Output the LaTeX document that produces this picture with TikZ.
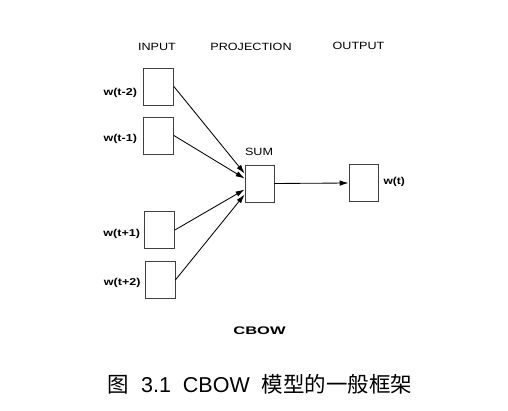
\documentclass[tikz,border=0pt]{standalone}
\usepackage{fontspec}
\setmainfont{Liberation Sans}
\newfontfamily\cjk{Noto Sans CJK SC}
\usetikzlibrary{arrows.meta, positioning, calc}
\tikzset{
    unitbox/.style={rectangle, draw=black!75, line width=0.75pt, minimum width=30pt, minimum height=37pt, inner sep=0pt},
    arrow/.style={line width=0.85pt, -{Latex[length=9pt, width=5.5pt]}}
}
\newcommand{\wide}[2]{\scalebox{#1}[1]{#2}}

\begin{document}
\begin{tikzpicture}[
    x=1pt, y=-1pt,
    layerlabel/.style={font=\fontsize{10.5}{12}\selectfont, inner sep=0pt},
    wordlabel/.style={font=\bfseries\fontsize{10}{12}\selectfont, inner sep=0pt, anchor=east}
]
    \useasboundingbox (0,0) rectangle (508,411);

    % Layer titles
    \node (tinput) [layerlabel] at (157,47) {\wide{1.2}{INPUT}};
    \node (tproj) [layerlabel] at (251,46.5) {\wide{1.2}{PROJECTION}};
    \node (toutput) [layerlabel] at (358.5,45.5) {\wide{1.2}{OUTPUT}};

    % Context words
    \node (in1) [unitbox] at (158.5,86.5) {};
    \node (in2) [unitbox] at (158.5,135.5) {};
    \node (in3) [unitbox] at (159.5,230) {};
    \node (in4) [unitbox] at (160,280) {};
    \node (lin1) [wordlabel] at ($(in1.west)+(-6,6)$) {\wide{1.25}{w(t-2)}};
    \node (lin2) [wordlabel] at ($(in2.west)+(-6,3)$) {\wide{1.25}{w(t-1)}};
    \node (lin3) [wordlabel] at ($(in3.west)+(-4,4)$) {\wide{1.25}{w(t+1)}};
    \node (lin4) [wordlabel] at ($(in4.west)+(-4,2.5)$) {\wide{1.25}{w(t+2)}};

    % Projection and output
    \node (sum) [unitbox, minimum width=29pt] at (259.5,183.5) {};
    \node (lsum) [layerlabel] at (259,152) {\wide{1.2}{SUM}};
    \node (out) [unitbox, minimum width=29pt] at (363.5,183) {};
    \node (lout) [wordlabel, anchor=west] at ($(out.east)+(5,-1.5)$) {\wide{1.2}{w(t)}};

    % Connections
    \draw [arrow] (in1.east) -- ([yshift=10pt]sum.west);
    \draw [arrow] (in2.east) -- ([yshift=5pt]sum.west);
    \draw [arrow] (in3.east) -- ([yshift=-6pt]sum.west);
    \draw [arrow] (in4.east) -- ([yshift=-11pt]sum.west);
    \draw [arrow] (sum.east) -- (out.west);

    % Titles
    \node (model) [font=\bfseries\fontsize{11}{13}\selectfont] at (259.5,331) {\wide{1.5}{CBOW}};
    \node (caption) [font=\fontsize{21.5}{25}\selectfont] at (260,384) {{\cjk 图}\ \ 3.1\ \ CBOW\ \ {\cjk 模型的一般框架}};
\end{tikzpicture}
\end{document}
